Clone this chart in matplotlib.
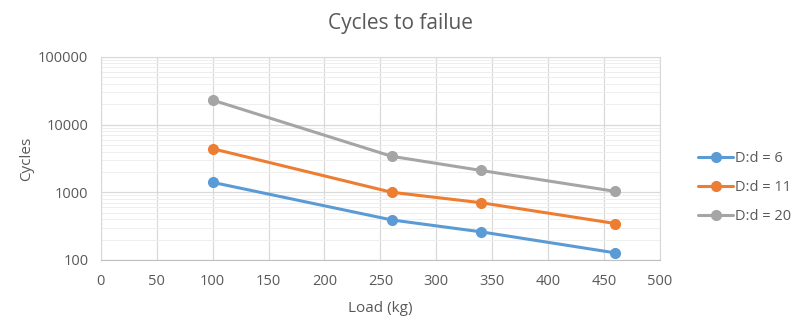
import matplotlib
matplotlib.use("Agg")
import matplotlib.pyplot as plt
from matplotlib.ticker import LogLocator, FixedLocator, NullFormatter

plt.rcParams['font.family'] = ['Open Sans', 'DejaVu Sans']

load = [100, 260, 340, 460]
cycles_6 = [1400, 390, 260, 127]
cycles_11 = [4400, 1000, 700, 345]
cycles_20 = [23000, 3400, 2100, 1030]
labels = ["D:d = 6", "D:d = 11", "D:d = 20"]
colors = ["#5B9BD5", "#ED7D31", "#A5A5A5"]
x_ticks = [0, 50, 100, 150, 200, 250, 300, 350, 400, 450, 500]
y_ticks = [100, 1000, 10000, 100000]

text_color = "#595959"
grid_color = "#D9D9D9"

fig = plt.figure(figsize=(8, 3.29), dpi=100)
ax = fig.add_axes([0.126, 0.21, 0.699, 0.617])

for series, label, color in zip([cycles_6, cycles_11, cycles_20], labels, colors):
    ax.plot(load, series, color=color, lw=2.2, marker='o', ms=7,
            label=label, solid_capstyle='round', zorder=3)

ax.set_yscale('log')
ax.set_xlim(0, 500)
ax.set_ylim(100, 100000)
ax.xaxis.set_major_locator(FixedLocator(x_ticks))
ax.yaxis.set_major_locator(FixedLocator(y_ticks))
ax.set_yticklabels([str(v) for v in y_ticks])
ax.yaxis.set_minor_locator(LogLocator(base=10, subs=range(2, 10), numticks=20))
ax.yaxis.set_minor_formatter(NullFormatter())

ax.grid(True, which='major', color=grid_color, lw=0.9)
ax.grid(True, which='minor', axis='y', color="#EEEEEE", lw=0.7)
ax.set_axisbelow(True)

for side in ['top', 'right', 'left']:
    ax.spines[side].set_color(grid_color)
ax.spines['bottom'].set_color("#BFBFBF")
ax.tick_params(which='both', length=0, colors=text_color, labelsize=10.5)
ax.tick_params(axis='x', pad=10)
ax.tick_params(axis='y', pad=9)

ax.set_xlabel("Load (kg)", color=text_color, fontsize=11, labelpad=9)
ax.set_ylabel("Cycles", color=text_color, fontsize=11, labelpad=3)

fig.text(0.5, 0.93, "Cycles to failue", ha='center', va='center',
         fontsize=15, color=text_color)

leg = ax.legend(loc='center left', bbox_to_anchor=(1.045, 0.355), frameon=False,
                fontsize=10.5, labelcolor=text_color, handlelength=2.4,
                labelspacing=0.95, handletextpad=0.15)

fig.savefig("out.png", dpi=100, facecolor='white')
